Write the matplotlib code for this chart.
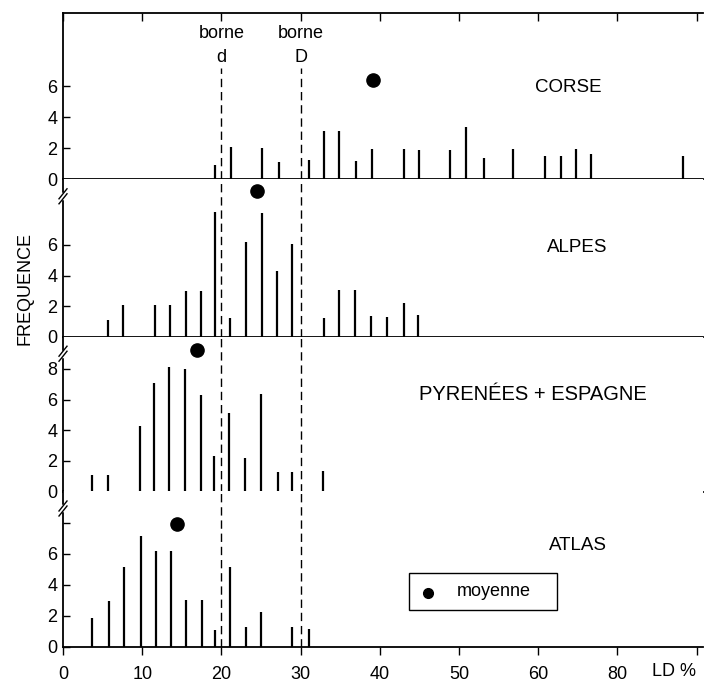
import matplotlib
matplotlib.use('Agg')
import matplotlib.pyplot as plt
from matplotlib.patches import Rectangle

plt.rcParams['font.family'] = ['Liberation Sans', 'DejaVu Sans']

# LD class positions (axis units) and frequencies for each region
corse_x = [19.2, 21.2, 25.1, 27.3, 31.1, 32.9, 34.9, 37.0, 39.0, 43.1,
           44.9, 48.8, 50.9, 53.2, 56.8, 60.8, 62.9, 64.8, 66.7, 78.3]
corse_n = [0.92, 2.09, 2.0, 1.13, 1.25, 3.1, 3.1, 1.16, 1.98, 1.93,
           1.88, 1.88, 3.35, 1.37, 1.98, 1.49, 1.49, 1.98, 1.61, 1.49]
corse_mean = (39.2, 6.43)

alpes_x = [5.7, 7.6, 11.6, 13.5, 15.5, 17.4, 19.2, 21.1, 23.1, 25.1,
           27.0, 28.9, 32.9, 34.9, 36.9, 38.9, 40.9, 43.0, 44.8]
alpes_n = [1.07, 2.04, 2.04, 2.04, 3.02, 3.02, 8.15, 1.19, 6.2, 8.1,
           4.3, 6.04, 1.19, 3.06, 3.06, 1.37, 1.28, 2.2, 1.42]
alpes_mean = (24.5, 9.5)

pyr_x = [3.6, 5.7, 9.7, 11.5, 13.4, 15.4, 17.4, 19.1, 21.0, 23.0,
         25.0, 27.1, 28.9, 32.8]
pyr_n = [1.06, 1.06, 4.26, 7.1, 8.1, 8.0, 6.3, 2.3, 5.13, 2.16,
         6.34, 1.29, 1.29, 1.34]
pyr_mean = (16.9, 9.2)

atlas_x = [3.7, 5.8, 7.75, 9.8, 11.7, 13.6, 15.5, 17.5, 19.2, 21.1,
           23.1, 25.0, 28.9, 31.0]
atlas_n = [1.84, 2.98, 5.13, 7.16, 6.15, 6.2, 3.02, 3.02, 1.12, 5.13,
           1.29, 2.27, 1.27, 1.16]
atlas_mean = (14.4, 7.9)

regions = ['CORSE', 'ALPES', 'PYRENÉES + ESPAGNE', 'ATLAS']
xs = [corse_x, alpes_x, pyr_x, atlas_x]
ns = [corse_n, alpes_n, pyr_n, atlas_n]
means = [corse_mean, alpes_mean, pyr_mean, atlas_mean]
label_pos = [(63.8, 5.95), (64.9, 5.8), (59.3, 6.34), (65.0, 6.5)]
label_size = [13.5, 13.5, 14.5, 13.5]
ylims = [10.73, 10.29, 10.1, 10.0]
yticks = [[0, 2, 4, 6], [0, 2, 4, 6], [0, 2, 4, 6, 8], [0, 2, 4, 6, 8]]
yticklabels = [['0', '2', '4', '6'], ['0', '2', '4', '6'],
               ['0', '2', '4', '6', '8'], ['0', '2', '4', '6', '']]

xtick_pos = [0, 10, 20, 30, 40, 50, 60, 70, 80]
xtick_labels = ['0', '10', '20', '30', '40', '50', '60', '80', '']
borne_d = 20.0
borne_D = 30.0

W, H = 705, 683
fig = plt.figure(figsize=(W / 100, H / 100), dpi=100)
heights = [166, 157.4, 154.8, 155.5]
gs = fig.add_gridspec(4, 1, height_ratios=heights, hspace=0,
                      left=63 / W, right=703 / W,
                      top=1 - 13.3 / H, bottom=1 - 647 / H)
axes = [fig.add_subplot(gs[i]) for i in range(4)]


def axis_break(ax, h_px, off_px):
    # little "//" across the left spine, just under the panel top
    w_px = 640.0
    y0 = 1 - off_px / h_px
    dx = 4 / w_px
    dy = 5 / h_px
    ax.plot([0, 0], [y0 - 2 / h_px, y0 + 2 / h_px], color='white', lw=2.5,
            transform=ax.transAxes, clip_on=False, zorder=5)
    for s in (-2.5, 2.5):
        ax.plot([-dx, dx], [y0 + s / h_px - dy, y0 + s / h_px + dy],
                color='black', lw=1, transform=ax.transAxes,
                clip_on=False, zorder=6)


for i, ax in enumerate(axes):
    ax.vlines(xs[i], 0, ns[i], color='black', lw=1.6)
    ax.plot(*means[i], 'o', color='black', ms=9.5)
    ax.text(*label_pos[i], regions[i], ha='center', va='center',
            fontsize=label_size[i])
    ax.set_xlim(0, 80.8)
    ax.set_ylim(0, ylims[i])
    ax.set_yticks(yticks[i])
    ax.set_yticklabels(yticklabels[i])
    ax.set_xticks(xtick_pos)
    ax.spines['right'].set_visible(False)
    ax.spines['top'].set_visible(i == 0)
    for s in ('left', 'bottom', 'top'):
        ax.spines[s].set_linewidth(1.3)
    ax.tick_params(axis='y', direction='in', length=5, width=1,
                   labelsize=13, pad=4)
    ax.tick_params(axis='x', bottom=False, labelbottom=False)
    ymax = 0.67 if i == 0 else 1
    for xb in (borne_d, borne_D):
        ax.axvline(xb, ymax=ymax, color='black', lw=1,
                   linestyle=(0, (6, 3.5)))
    if i > 0:
        axis_break(ax, heights[i], 17)

# top frame ticks on the first panel
axes[0].tick_params(axis='x', top=True, direction='in', length=6, width=1,
                    labeltop=False)

# labels of the two bounds
ax = axes[0]
ax.text(borne_d, 9.44, 'borne', ha='center', va='center', fontsize=13)
ax.text(borne_d, 7.9, 'd', ha='center', va='center', fontsize=13)
ax.text(borne_D, 9.44, 'borne', ha='center', va='center', fontsize=13)
ax.text(borne_D, 7.9, 'D', ha='center', va='center', fontsize=13)

# bottom axis
ax = axes[3]
ax.set_xticklabels(xtick_labels)
ax.tick_params(axis='x', bottom=True, labelbottom=True, direction='out',
               length=6, width=1, labelsize=13, pad=8)
ax.text(74.4, -0.16, 'LD %', ha='left', va='center', fontsize=13,
        transform=ax.get_xaxis_transform())

# key for the mean marker
ax.add_patch(Rectangle((43.7, 2.4), 18.7, 2.34, fill=False, lw=1,
                       edgecolor='black'))
ax.plot(46.1, 3.5, 'o', color='black', ms=7)
ax.text(49.7, 3.56, 'moyenne', ha='left', va='center', fontsize=13)

fig.text(25 / W, 1 - 289 / H, 'FREQUENCE', rotation=90, ha='center',
         va='center', fontsize=13)

fig.savefig('out.png', dpi=100)
